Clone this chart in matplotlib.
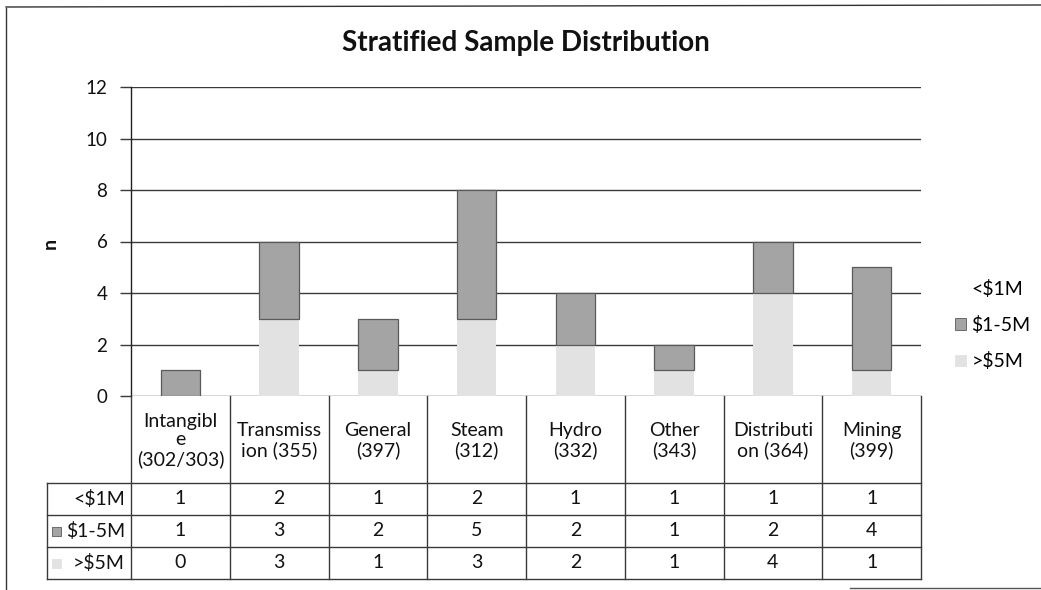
import matplotlib
matplotlib.use("Agg")
import matplotlib.pyplot as plt
from matplotlib.patches import Rectangle, Patch
from matplotlib.lines import Line2D
from matplotlib.transforms import blended_transform_factory
import numpy as np

# ---- data ----
categories = ["Intangibl\ne\n(302/303)", "Transmiss\nion (355)", "General\n(397)",
              "Steam\n(312)", "Hydro\n(332)", "Other\n(343)",
              "Distributi\non (364)", "Mining\n(399)"]
series_names = ["<$1M", "$1-5M", ">$5M"]
under_1m = [1, 2, 1, 2, 1, 1, 1, 1]
between_1_5m = [1, 3, 2, 5, 2, 1, 2, 4]
over_5m = [0, 3, 1, 3, 2, 1, 4, 1]
y_ticks = [0, 2, 4, 6, 8, 10, 12]
title = "Stratified Sample Distribution"
y_label = "n"

# ---- style ----
FONT = "Lato"
plt.rcParams["font.family"] = [FONT, "DejaVu Sans"]
DARK = "#a4a4a4"
DARK_EDGE = "#5a5a5a"
LIGHT = "#e2e2e2"
LINE = "#3a3a3a"
TXT = "#111111"
FS = 14

W, H = 1041, 590
fig = plt.figure(figsize=(W / 100, H / 100), dpi=100)


def fx(px):
    return px / W


def fy(py):
    return 1 - py / H


ax_l, ax_r, ax_t, ax_b = 131, 921, 87, 396
ax = fig.add_axes([fx(ax_l), fy(ax_b), (ax_r - ax_l) / W, (ax_b - ax_t) / H])

x = np.arange(len(categories))
bottom_mid = np.array(over_5m)
bottom_top = bottom_mid + np.array(between_1_5m)

ax.bar(x, over_5m, width=0.4, color=LIGHT, linewidth=0, zorder=2)
ax.bar(x, between_1_5m, width=0.4, bottom=bottom_mid, color=DARK,
       edgecolor=DARK_EDGE, linewidth=0.9, zorder=2)
ax.bar(x, under_1m, width=0.4, bottom=bottom_top, color="white",
       linewidth=0, zorder=0.4)

ax.set_xlim(-0.5, len(categories) - 0.5)
ax.set_ylim(0, 12)
ax.set_yticks(y_ticks)
ax.set_xticks([])
ax.set_axisbelow(True)
ax.yaxis.grid(True, color=LINE, linewidth=1.0)
for s in ["top", "right", "bottom"]:
    ax.spines[s].set_visible(False)
ax.spines["left"].set_color("#202020")
ax.spines["left"].set_linewidth(1.0)
ax.tick_params(axis="y", direction="out", length=8, width=1.0, color=LINE,
               pad=9, labelsize=13.5, labelcolor=TXT)

fig.text(fx(526), fy(43), title, ha="center", va="center",
         fontsize=20, fontweight="bold", color=TXT)
fig.text(fx(50), fy(243), y_label, ha="center", va="center", rotation=90,
         fontsize=FS, fontweight="bold", color=TXT)

# ---- data table below the plot ----
tr = blended_transform_factory(ax.transData, fig.transFigure)
col_w = (ax_r - ax_l) / len(categories)
label_left = -0.5 - (ax_l - 47) / col_w
row_edges = [396, 483, 515, 547, 579]


def hline(x0, x1, ypx):
    fig.add_artist(Line2D([x0, x1], [fy(ypx), fy(ypx)], transform=tr,
                          color=LINE, linewidth=1.0, clip_on=False))


def vline(xd, y0, y1):
    fig.add_artist(Line2D([xd, xd], [fy(y0), fy(y1)], transform=tr,
                          color=LINE, linewidth=1.0, clip_on=False))


for ypx in row_edges[1:]:
    hline(label_left, len(categories) - 0.5, ypx)
for i in range(len(categories) + 1):
    vline(i - 0.5, row_edges[0], row_edges[-1])
vline(label_left, row_edges[1], row_edges[-1])

for i, name in enumerate(categories):
    fig.text(i, fy((row_edges[0] + row_edges[1]) / 2 + 1), name, transform=tr,
             ha="center", va="center", fontsize=FS, linespacing=1.12,
             color=TXT)

table_rows = [under_1m, between_1_5m, over_5m]
swatches = [("white", "white"), (DARK, DARK_EDGE), (LIGHT, LIGHT)]
for r, (name, vals) in enumerate(zip(series_names, table_rows)):
    yc = (row_edges[r + 1] + row_edges[r + 2]) / 2
    fig.text(-0.5 - 6 / col_w, fy(yc), name, transform=tr, ha="right",
             va="center", fontsize=FS, color=TXT)
    fc, ec = swatches[r]
    fig.add_artist(Rectangle((fx(52), fy(yc + 4.5)), 9 / W, 9 / H,
                             transform=fig.transFigure, facecolor=fc,
                             edgecolor=ec, linewidth=0.6))
    for i, v in enumerate(vals):
        fig.text(i, fy(yc), str(v), transform=tr, ha="center", va="center",
                 fontsize=FS, color=TXT)

# ---- legend ----
handles = [Patch(facecolor=fc, edgecolor=ec, linewidth=0.6) for fc, ec in swatches]
fig.legend(handles, series_names, loc="center left",
           bbox_to_anchor=(fx(955), fy(325)), bbox_transform=fig.transFigure,
           frameon=False, fontsize=FS, handlelength=0.55, handleheight=0.55,
           handletextpad=0.3, labelspacing=0.95, borderpad=0, borderaxespad=0)

# ---- page frame ----
fig.add_artist(Line2D([fx(6), fx(6)], [fy(8), fy(590)], transform=fig.transFigure,
                      color="#333333", linewidth=1.0))
fig.add_artist(Line2D([fx(6), fx(1041)], [fy(7), fy(5)], transform=fig.transFigure,
                      color="#333333", linewidth=1.0))
fig.add_artist(Line2D([fx(850), fx(1041)], [fy(588), fy(588)], transform=fig.transFigure,
                      color="#555555", linewidth=1.0))

fig.savefig("out.png", dpi=100)
